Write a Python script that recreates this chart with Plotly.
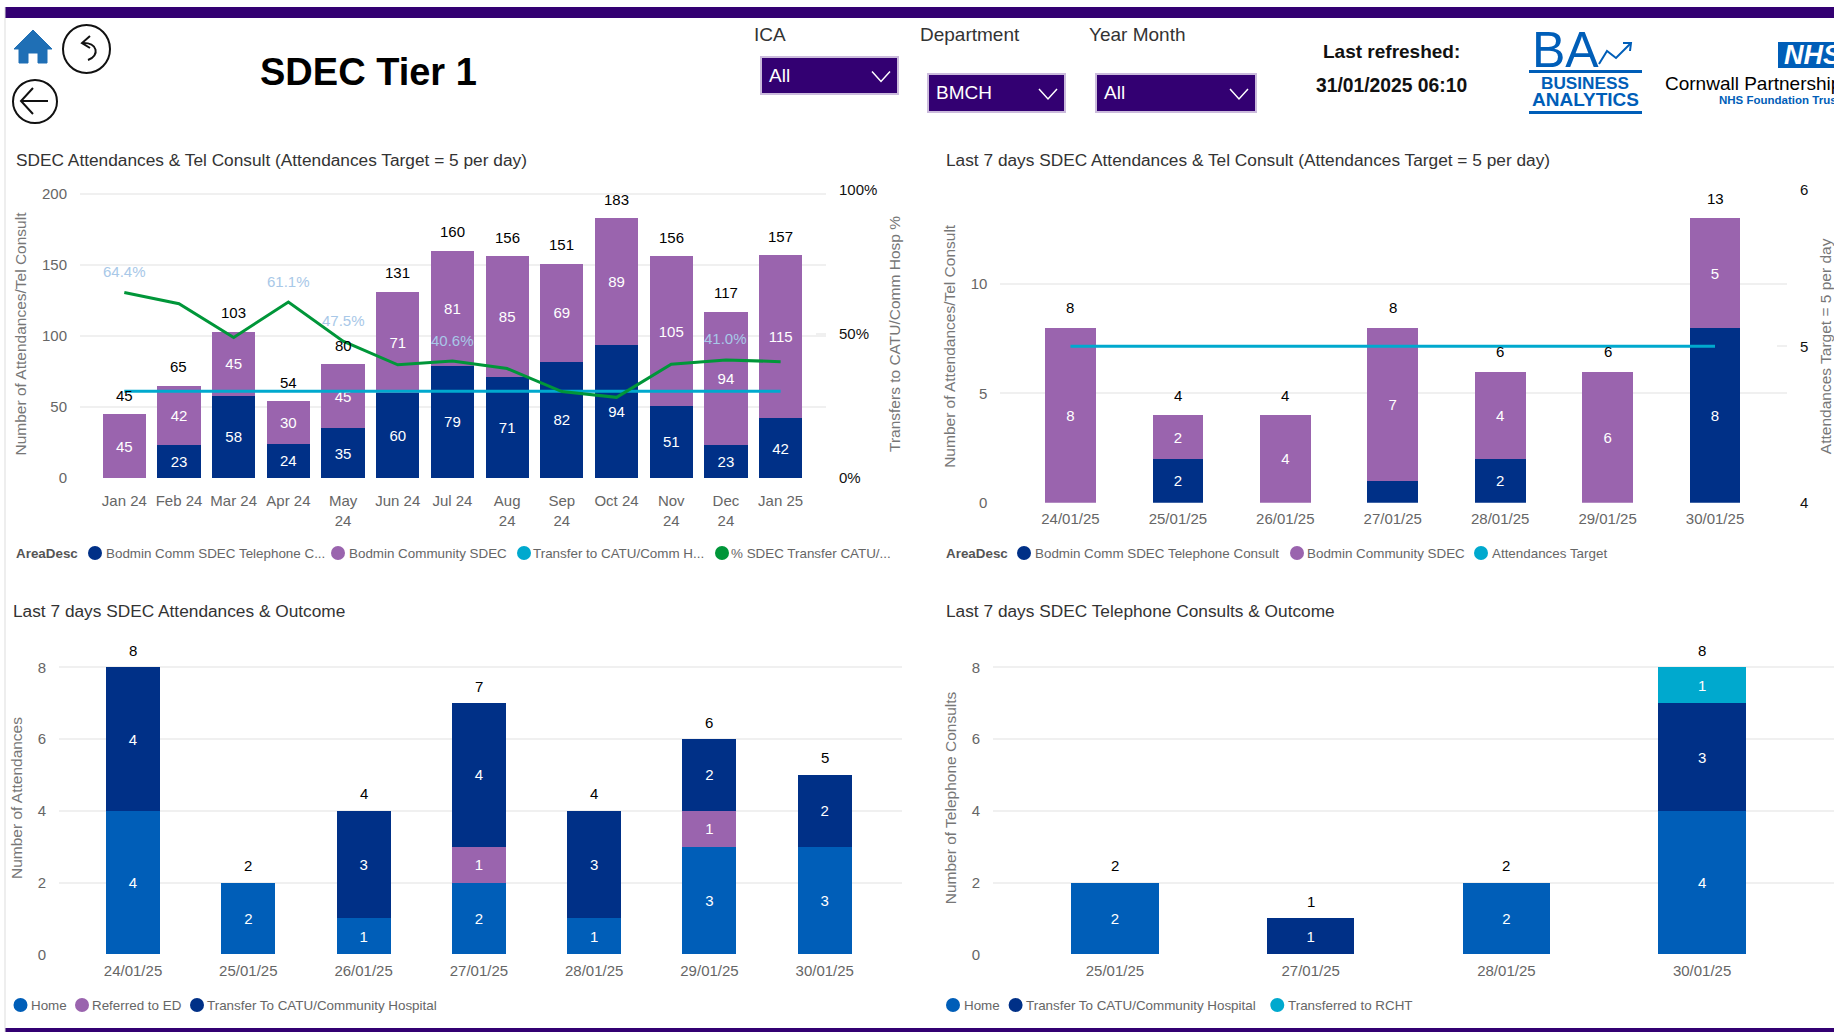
import plotly.graph_objects as go

W, H = 1834, 1032
NAVY, PURPLE, BLUE, CYAN, GREEN = "#003087", "#9a64ae", "#005eb8", "#00a9ce", "#009639"
BAND = "#330072"
FONT = "Liberation Sans"
GRID = "#f0f0f0"

# Chart 1: monthly attendances
months = ["Jan 24", "Feb 24", "Mar 24", "Apr 24", "May<br>24", "Jun 24", "Jul 24",
          "Aug<br>24", "Sep<br>24", "Oct 24", "Nov<br>24", "Dec<br>24", "Jan 25"]
month_tel = [0, 23, 58, 24, 35, 60, 79, 71, 82, 94, 51, 23, 42]
month_comm = [45, 42, 45, 30, 45, 71, 81, 85, 69, 89, 105, 94, 115]
month_total = [45, 65, 103, 54, 80, 131, 160, 156, 151, 183, 156, 117, 157]
month_transfer = [61, 61, 61, 61, 61, 61, 61, 61, 61, 61, 61, 61, 61]
month_pct = [64.4, 60.5, 48.8, 61.1, 47.5, 39.3, 40.6, 38.0, 30.0, 28.0, 39.5, 41.0, 40.4]
month_pct_labels = ["64.4%", "", "", "61.1%", "47.5%", "", "40.6%", "", "", "", "", "41.0%", ""]

# Chart 2: last 7 days attendances and telephone consults
days = ["24/01/25", "25/01/25", "26/01/25", "27/01/25", "28/01/25", "29/01/25", "30/01/25"]
day_tel = [0, 2, 0, 1, 2, 0, 8]
day_comm = [8, 2, 4, 7, 4, 6, 5]
day_total = [8, 4, 4, 8, 6, 6, 13]
day_target = [5, 5, 5, 5, 5, 5, 5]

# Chart 3: last 7 days attendance outcome
att_home = [4, 2, 1, 2, 1, 3, 3]
att_ed = [0, 0, 0, 1, 0, 1, 0]
att_transfer = [4, 0, 3, 4, 3, 2, 2]
att_total = [8, 2, 4, 7, 4, 6, 5]

# Chart 4: last 7 days telephone consult outcome
tel_days = ["25/01/25", "27/01/25", "28/01/25", "30/01/25"]
tel_home = [2, 0, 2, 4]
tel_transfer = [0, 1, 0, 3]
tel_rcht = [0, 0, 0, 1]
tel_total = [2, 1, 2, 8]


def px(x):
    return x / W


def py(y):
    return 1 - y / H


def path(cmds):
    """cmds: list of (letter, (x, y, x, y ...)) in page pixels"""
    out = []
    for c, pts in cmds:
        pairs = [f"{px(pts[i]):.5f} {py(pts[i+1]):.5f}" for i in range(0, len(pts), 2)]
        if c == "L":
            out.extend("L " + p for p in pairs)
        elif c == "Z":
            out.append("Z")
        else:
            out.append(c + " " + " ".join(pairs))
    return " ".join(out)


fig = go.Figure()
shapes, notes = [], []


def note(x, y, text, size=15, color="#444", bold=False, anchor="left", layer_font=FONT):
    notes.append(dict(xref="paper", yref="paper", x=px(x - 2 if anchor == "left" else x), y=py(y),
                      text=f"<b>{text}</b>" if bold else text,
                      showarrow=False, xanchor=anchor, yanchor="middle",
                      font=dict(family=layer_font, size=size, color=color)))


def rect(x0, y0, x1, y1, fill, line=None, lw=0):
    shapes.append(dict(type="rect", xref="paper", yref="paper", x0=px(x0), x1=px(x1), y0=py(y0), y1=py(y1),
                       fillcolor=fill, line=dict(color=line or fill, width=lw)))


def ring(x0, y0, x1, y1, color="#111", width=2, fill="rgba(0,0,0,0)"):
    shapes.append(dict(type="circle", xref="paper", yref="paper", x0=px(x0), x1=px(x1), y0=py(y0), y1=py(y1),
                       fillcolor=fill, line=dict(color=color, width=width)))


def stroke(cmds, color="#111", width=2, fill="rgba(0,0,0,0)"):
    shapes.append(dict(type="path", xref="paper", yref="paper", path=path(cmds), fillcolor=fill,
                       line=dict(color=color, width=width)))


def bars(x, y, color, name, xa, ya, width, min_label=1):
    fig.add_trace(go.Bar(x=x, y=y, name=name, marker=dict(color=color, line=dict(width=0)), xaxis=xa, yaxis=ya,
                         width=[width] * len(x), text=[str(v) if v >= min_label else "" for v in y],
                         textposition="inside", insidetextanchor="middle", textangle=0,
                         insidetextfont=dict(family=FONT, size=15, color="white"), showlegend=False))


def totals(x, y, xa, ya, shift):
    for a, b in zip(x, y):
        notes.append(dict(xref=xa, yref=ya, x=a, y=b, text=str(b), showarrow=False, yshift=shift,
                          xanchor="center", yanchor="middle", font=dict(family=FONT, size=15, color="#000")))


def xaxis(cats, left, right, lo, hi, anchor, standoff):
    return dict(domain=[px(left), px(right)], type="category", categoryorder="array", categoryarray=cats,
                range=[lo, hi], anchor=anchor, showgrid=False, zeroline=False, showline=False, ticks="",
                tickfont=dict(family=FONT, size=15, color="#666"), ticklabelstandoff=standoff, automargin=False,
                tickangle=0, fixedrange=True)


def yaxis(top, bottom, hi, dtick, title, anchor, standoff):
    return dict(domain=[py(bottom), py(top)], range=[0, hi], dtick=dtick, anchor=anchor, showgrid=True,
                gridcolor=GRID, gridwidth=2, zeroline=False, showline=False, ticks="",
                tickfont=dict(family=FONT, size=15, color="#666"), ticklabelstandoff=12, automargin=False,
                title=dict(text=title, standoff=standoff, font=dict(family=FONT, size=15.5, color="#777")))


def yright(top, bottom, lo, hi, vals, labels, title, overlay, anchor, standoff):
    return dict(domain=[py(bottom), py(top)], range=[lo, hi], tickvals=vals, ticktext=labels, overlaying=overlay,
                anchor=anchor, side="right", showgrid=False, zeroline=False, showline=False, ticks="inside",
                ticklen=10, tickcolor=GRID, tickwidth=2, ticklabelstandoff=12, automargin=False,
                tickfont=dict(family=FONT, size=15, color="#111"),
                title=dict(text=title, standoff=standoff, font=dict(family=FONT, size=15.5, color="#777")))


# Chart 1
bars(months, month_tel, NAVY, "Bodmin Comm SDEC Telephone Consult", "x", "y", 0.79)
bars(months, month_comm, PURPLE, "Bodmin Community SDEC", "x", "y", 0.79)
fig.add_trace(go.Scatter(x=months, y=month_transfer, mode="lines", name="Transfer to CATU/Comm Hosp", xaxis="x", yaxis="y",
                         line=dict(color=CYAN, width=3), showlegend=False))
fig.add_trace(go.Scatter(x=months, y=month_pct, mode="lines", name="% SDEC Transfer CATU/Comm Hosp", xaxis="x", yaxis="y2",
                         line=dict(color=GREEN, width=3), showlegend=False))
totals(months, month_total, "x", "y", 19)
for m, v, lab in zip(months, month_pct, month_pct_labels):
    if lab:
        notes.append(dict(xref="x", yref="y2", x=m, y=v, text=lab, showarrow=False, yshift=21, xanchor="center",
                          yanchor="middle", font=dict(family=FONT, size=15, color="#a8c8e8")))

# Chart 2
bars(days, day_tel, NAVY, "Bodmin Comm SDEC Telephone Consult", "x2", "y3", 0.472, 2)
bars(days, day_comm, PURPLE, "Bodmin Community SDEC", "x2", "y3", 0.472)
fig.add_trace(go.Scatter(x=days, y=day_target, mode="lines", name="Attendances Target", xaxis="x2", yaxis="y4",
                         line=dict(color=CYAN, width=3), showlegend=False))
totals(days, day_total, "x2", "y3", 20)

# Chart 3
bars(days, att_home, BLUE, "Home", "x3", "y5", 0.468)
bars(days, att_ed, PURPLE, "Referred to ED", "x3", "y5", 0.468)
bars(days, att_transfer, NAVY, "Transfer To CATU/Community Hospital", "x3", "y5", 0.468)
totals(days, att_total, "x3", "y5", 17)

# Chart 4
bars(tel_days, tel_home, BLUE, "Home", "x4", "y6", 0.447)
bars(tel_days, tel_transfer, NAVY, "Transfer To CATU/Community Hospital", "x4", "y6", 0.447)
bars(tel_days, tel_rcht, CYAN, "Transferred to RCHT", "x4", "y6", 0.447)
totals(tel_days, tel_total, "x4", "y6", 17)

# Frame
rect(5, 7, W, 18, BAND)
rect(5, 1028, W, H, BAND)
shapes.append(dict(type="line", xref="paper", yref="paper", x0=px(5), x1=px(5), y0=py(7), y1=py(H),
                   line=dict(color="#dddddd", width=1)))

# Navigation icons
stroke([("M", (33, 30)), ("L", (52, 49, 47, 49, 47, 63, 38, 63, 38, 53, 28, 53, 28, 63, 19, 63, 19, 49, 14, 49)), ("Z", ())],
       color="#1f6fb5", width=1, fill="#1f6fb5")
ring(63, 25, 110, 73)
stroke([("M", (90, 36)), ("L", (82, 43, 90, 48))])
stroke([("M", (82, 43)), ("C", (98, 42, 100, 56, 88, 60))])
ring(13, 80, 57, 123)
stroke([("M", (48, 101)), ("L", (21, 101))])
stroke([("M", (33, 88)), ("L", (21, 101, 33, 114))])
note(368.5, 72, "SDEC Tier 1", size=38, color="#000", bold=True, anchor="center")

# Slicers
note(754, 35, "ICA", size=19, color="#333")
note(920, 35, "Department", size=19, color="#333")
note(1089, 35, "Year Month", size=19, color="#333")
for x0, x1, y0, y1, label, tx in [(761, 898, 57, 94, "All", 769), (928, 1065, 74, 112, "BMCH", 936),
                                  (1096, 1256, 74, 112, "All", 1104)]:
    rect(x0, y0, x1, y1, BAND, line="#cbbbdc", lw=2)
    note(tx, (y0 + y1) / 2 - 0.5, label, size=19, color="white")
    stroke([("M", (x1 - 26, (y0 + y1) / 2 - 4)), ("L", (x1 - 17, (y0 + y1) / 2 + 6, x1 - 8, (y0 + y1) / 2 - 4))],
           color="white", width=1.5)

note(1391, 52, "Last refreshed:", size=19, color="#111", bold=True, anchor="center")
note(1391, 85, "31/01/2025 06:10", size=19.3, color="#111", bold=True, anchor="center")

# Logos
note(1565, 50, "BA", size=50, color=BLUE, anchor="center")
stroke([("M", (1599, 64)), ("L", (1607, 51, 1616, 58, 1630, 44))], color=BLUE, width=2)
stroke([("M", (1623, 43)), ("L", (1631, 43, 1630, 51))], color=BLUE, width=2)
rect(1529, 70, 1642, 73, BLUE)
note(1585, 83, "BUSINESS", size=17.2, color=BLUE, bold=True, anchor="center")
note(1585, 100, "ANALYTICS", size=19, color=BLUE, bold=True, anchor="center")
rect(1529, 111, 1642, 114, BLUE)
note(1665, 83, "Cornwall Partnership", size=19, color="#000")
note(1719, 100, "NHS Foundation Trust", size=11.5, color=BLUE, bold=True)
rect(1778, 42, 1870, 68, BLUE)
note(1784, 55, "<i>NHS</i>", size=27, color="white", bold=True)


def legend(y, head, entries):
    if head:
        note(head[0], y, head[1], size=13.4, color="#555", bold=True)
    for cx, tx, color, text in entries:
        shapes.append(dict(type="circle", xref="paper", yref="paper", x0=px(cx - 7), x1=px(cx + 7),
                           y0=py(y + 7), y1=py(y - 7), fillcolor=color, line=dict(width=0)))
        note(tx, y, text, size=13.4, color="#666")


note(16, 160, "SDEC Attendances &amp; Tel Consult (Attendances Target = 5 per day)", size=17.3, color="#333")
note(946, 160, "Last 7 days SDEC Attendances &amp; Tel Consult (Attendances Target = 5 per day)", size=17.3, color="#333")
note(13, 611, "Last 7 days SDEC Attendances &amp; Outcome", size=17.3, color="#333")
note(946, 611, "Last 7 days SDEC Telephone Consults &amp; Outcome", size=17.3, color="#333")

legend(553, (16, "AreaDesc"), [
    (95, 105.5, NAVY, "Bodmin Comm SDEC Telephone C..."),
    (338, 348.5, PURPLE, "Bodmin Community SDEC"),
    (524, 533, CYAN, "Transfer to CATU/Comm H..."),
    (722, 731, GREEN, "% SDEC Transfer CATU/..."),
])
legend(553, (946, "AreaDesc"), [
    (1024, 1035, NAVY, "Bodmin Comm SDEC Telephone Consult"),
    (1297, 1306.5, PURPLE, "Bodmin Community SDEC"),
    (1481, 1491.5, CYAN, "Attendances Target"),
])
legend(1005, None, [
    (20.5, 30.5, BLUE, "Home"),
    (82, 92, PURPLE, "Referred to ED"),
    (197, 207, NAVY, "Transfer To CATU/Community Hospital"),
])
legend(1005, None, [
    (953, 963.7, BLUE, "Home"),
    (1015.6, 1025.5, NAVY, "Transfer To CATU/Community Hospital"),
    (1277.3, 1287.8, CYAN, "Transferred to RCHT"),
])

fig.update_layout(
    width=W, height=H, margin=dict(l=0, r=0, t=0, b=0), autosize=False,
    paper_bgcolor="white", plot_bgcolor="white", barmode="stack", showlegend=False,
    font=dict(family=FONT), shapes=shapes, annotations=notes,
    xaxis=xaxis(months, 80, 826, -0.81, 12.83, "y", 12),
    yaxis=yaxis(190, 478, 202.8, 50, "Number of Attendances/Tel Consult", "x", 11),
    yaxis2=yright(190, 478, 0, 100, [0, 50, 100], ["0%", "50%", "100%"], "Transfers to CATU/Comm Hosp %", "y", "x", 12),
    xaxis2=xaxis(days, 1000.4, 1787, -0.652, 6.67, "y3", 5),
    yaxis3=yaxis(190, 502.7, 14.3, 5, "Number of Attendances/Tel Consult", "x2", 11),
    yaxis4=yright(190, 502.7, 4, 6, [4, 5, 6], ["4", "5", "6"], "Attendances Target = 5 per day", "y3", "x2", 12),
    xaxis3=xaxis(days, 59, 902, -0.642, 6.67, "y5", 6),
    yaxis5=yaxis(641.7, 954.3, 8.714, 2, "Number of Attendances", "x3", 11),
    xaxis4=xaxis(tel_days, 993, 1834, -0.623, 3.674, "y6", 6),
    yaxis6=yaxis(641.7, 954.3, 8.714, 2, "Number of Telephone Consults", "x4", 11),
)

fig.write_html("out.html", config=dict(displayModeBar=False),
               post_script="document.body.style.margin='0';document.body.style.overflow='hidden';")
